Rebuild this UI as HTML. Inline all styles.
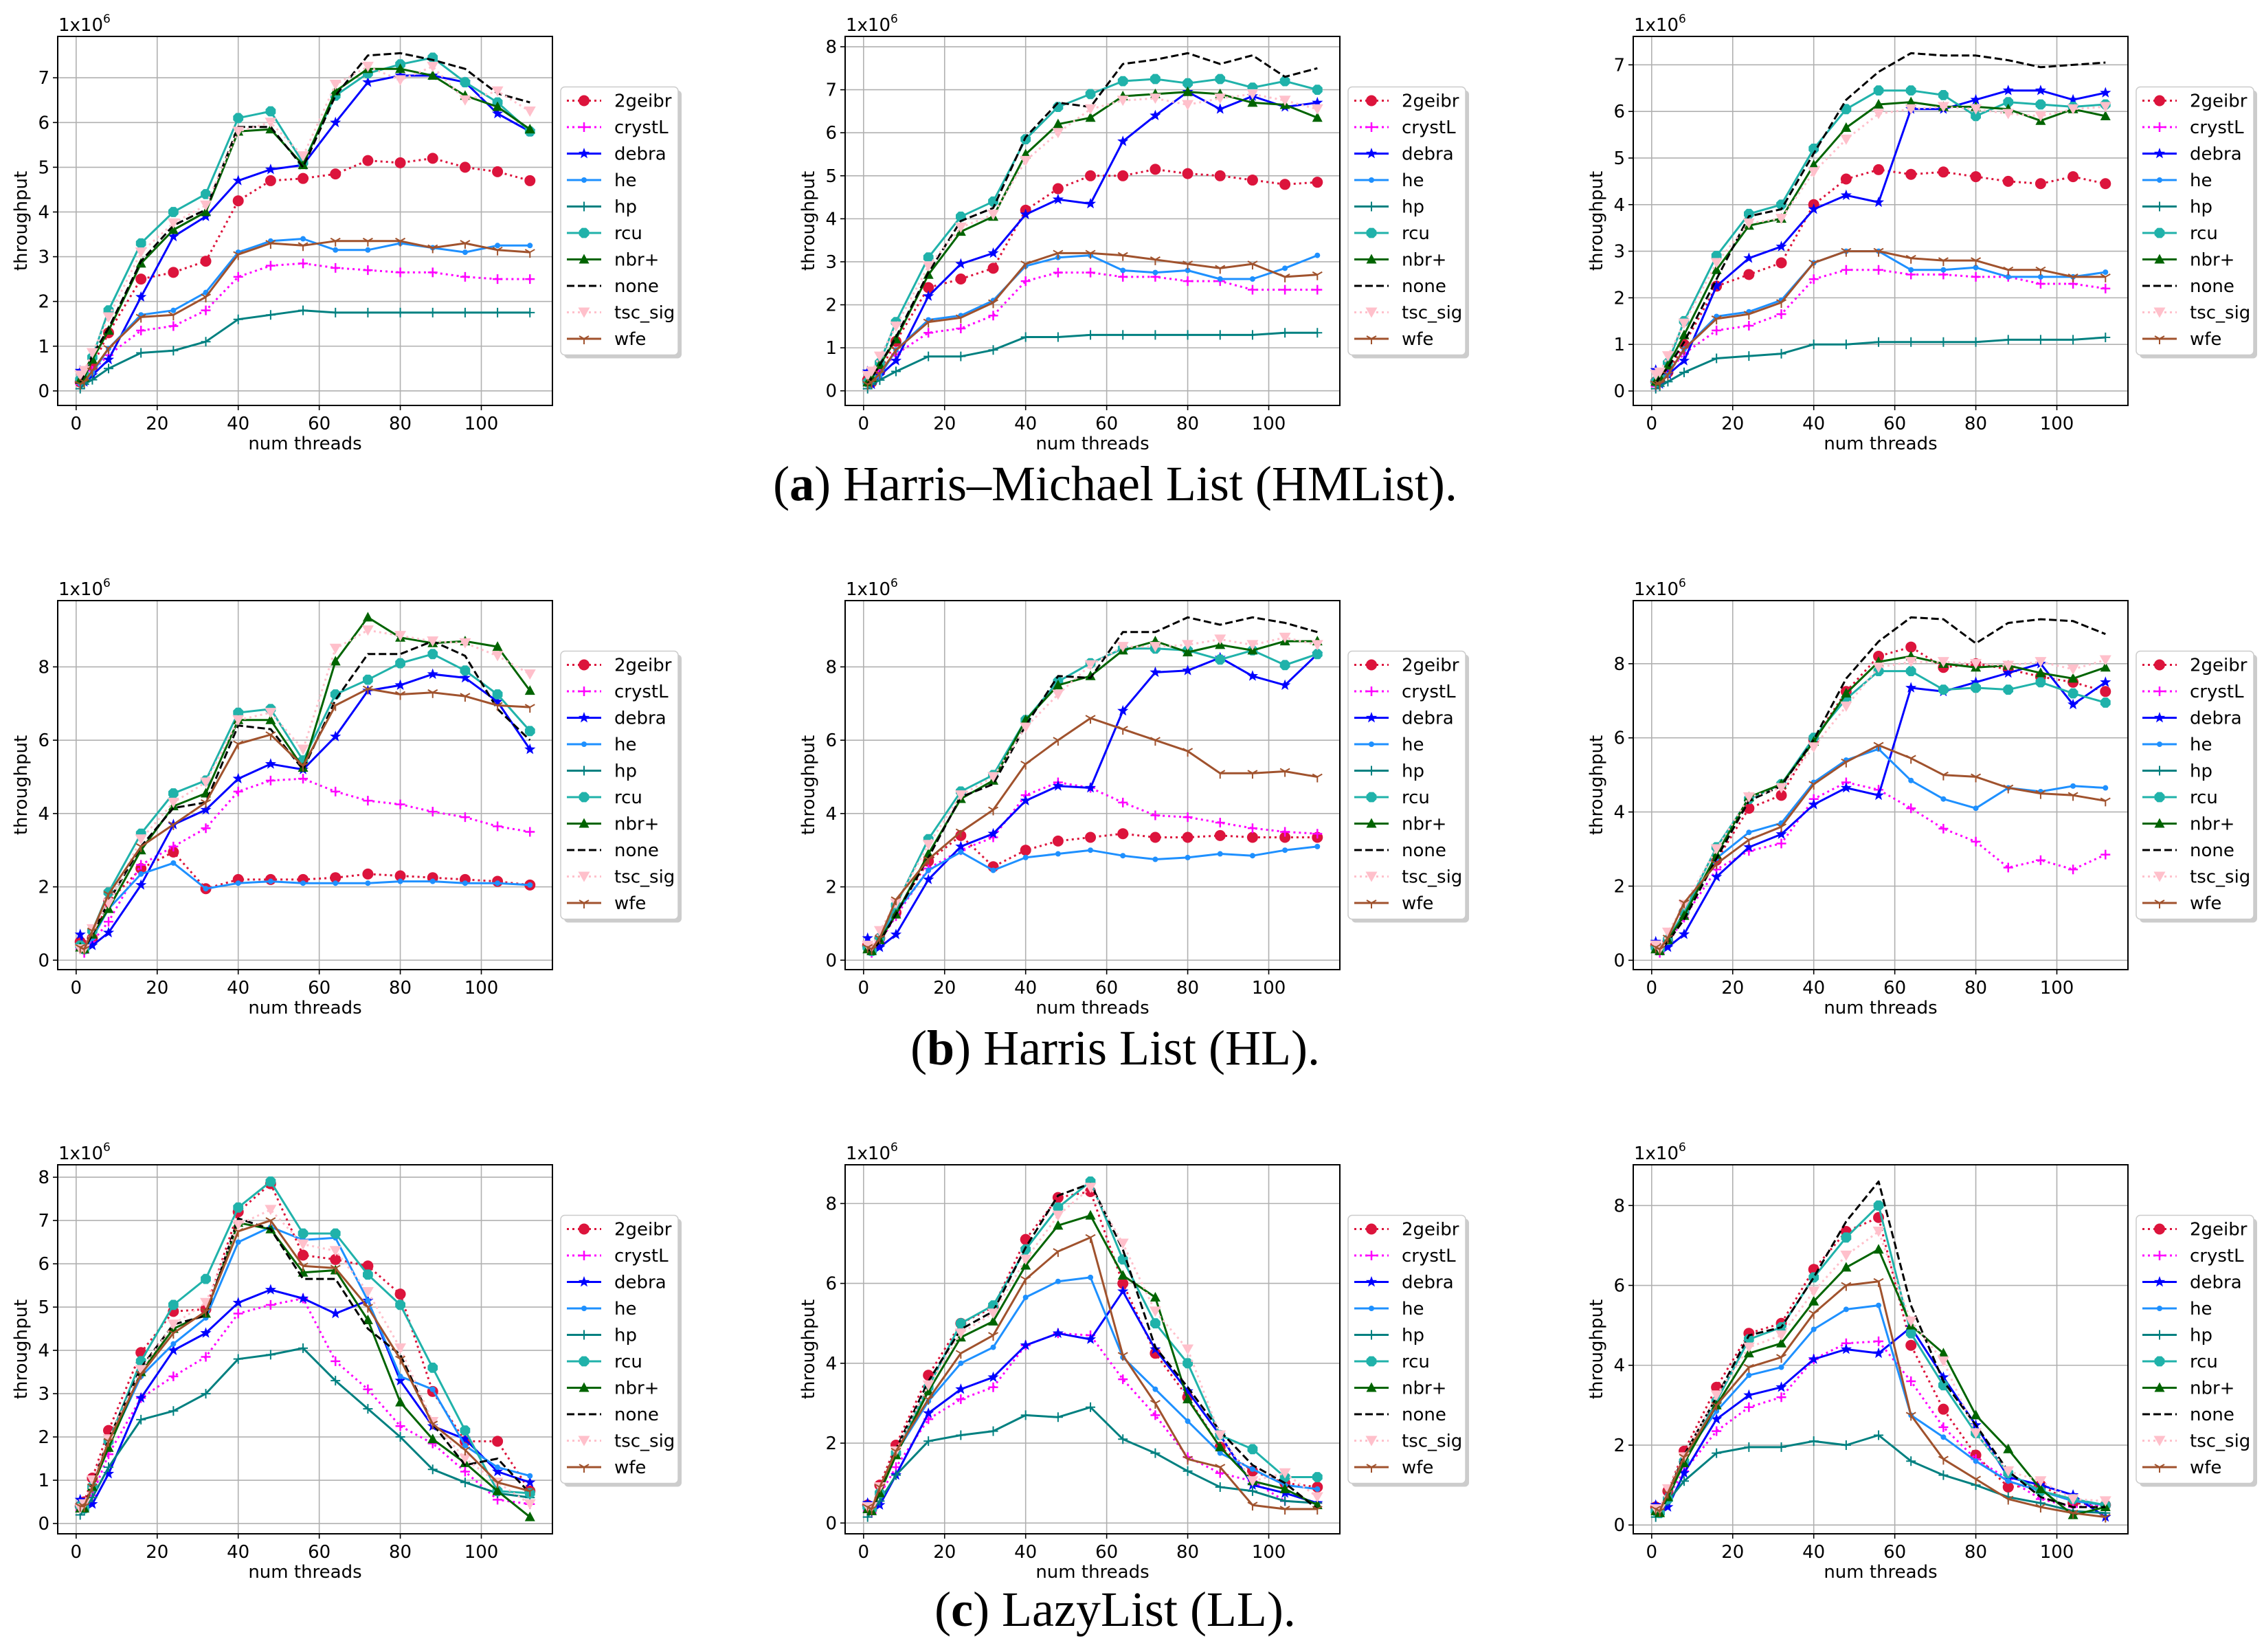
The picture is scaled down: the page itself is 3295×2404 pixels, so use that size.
<!DOCTYPE html>
<html><head><meta charset="utf-8"><style>
html,body{margin:0;padding:0;background:#fff}
svg{display:block}
text{font-family:"DejaVu Sans","Liberation Sans",sans-serif}
.cap{font-family:"Liberation Serif",serif}
</style></head><body>
<svg id="fig" xmlns="http://www.w3.org/2000/svg" width="3295" height="2404" viewBox="0 0 3295 2404">
<rect width="3295" height="2404" fill="#fff"/>
<text class="cap" x="1623" y="728" font-size="72" text-anchor="middle">(<tspan font-weight="bold">a</tspan>) Harris–Michael List (HMList).</text>
<text class="cap" x="1623" y="1549" font-size="72" text-anchor="middle">(<tspan font-weight="bold">b</tspan>) Harris List (HL).</text>
<text class="cap" x="1623" y="2366" font-size="72" text-anchor="middle">(<tspan font-weight="bold">c</tspan>) LazyList (LL).</text>
</svg>
<script>
const threads = [1,2,4,8,16,24,32,40,48,56,64,72,80,88,96,104,112];
const seriesNames = ["2geibr","crystL","debra","he","hp","rcu","nbr+","none","tsc_sig","wfe"];
const xTicks = [0,20,40,60,80,100];

const hmlist1 = [
[0.2,0.3,0.55,1.3,2.5,2.65,2.9,4.25,4.7,4.75,4.85,5.15,5.1,5.2,5.0,4.9,4.7],
[0.15,0.25,0.45,0.8,1.35,1.45,1.8,2.55,2.8,2.85,2.75,2.7,2.65,2.65,2.55,2.5,2.5],
[0.45,0.2,0.35,0.7,2.1,3.45,3.9,4.7,4.95,5.05,6.0,6.9,7.05,7.05,6.9,6.2,5.8],
[0.15,0.2,0.4,0.95,1.7,1.8,2.2,3.1,3.35,3.4,3.15,3.15,3.3,3.2,3.1,3.25,3.25],
[0.05,0.15,0.25,0.5,0.85,0.9,1.1,1.6,1.7,1.8,1.75,1.75,1.75,1.75,1.75,1.75,1.75],
[0.25,0.35,0.75,1.8,3.3,4.0,4.4,6.1,6.25,5.1,6.6,7.1,7.3,7.45,6.9,6.45,5.8],
[0.25,0.3,0.7,1.35,2.85,3.6,4.0,5.8,5.85,5.05,6.7,7.2,7.2,7.05,6.6,6.35,5.85],
[0.2,0.35,0.8,1.4,2.9,3.7,4.05,5.9,5.9,5.0,6.6,7.5,7.55,7.4,7.2,6.65,6.45],
[0.35,0.45,0.85,1.65,3.1,3.75,4.15,5.8,6.0,5.25,6.85,7.25,6.95,7.25,6.5,6.7,6.25],
[0.15,0.2,0.45,0.95,1.65,1.7,2.1,3.05,3.3,3.25,3.35,3.35,3.35,3.2,3.3,3.15,3.1]];
const hmlist2 = [
[0.25,0.2,0.45,1.15,2.4,2.6,2.85,4.2,4.7,5.0,5.0,5.15,5.05,5.0,4.9,4.8,4.85],
[0.15,0.2,0.45,0.85,1.35,1.45,1.75,2.55,2.75,2.75,2.65,2.65,2.55,2.55,2.35,2.35,2.35],
[0.45,0.15,0.35,0.7,2.2,2.95,3.2,4.1,4.45,4.35,5.8,6.4,6.95,6.55,6.85,6.6,6.7],
[0.15,0.2,0.35,0.95,1.65,1.75,2.1,2.9,3.1,3.15,2.8,2.75,2.8,2.6,2.6,2.85,3.15],
[0.05,0.15,0.25,0.45,0.8,0.8,0.95,1.25,1.25,1.3,1.3,1.3,1.3,1.3,1.3,1.35,1.35],
[0.2,0.3,0.65,1.6,3.1,4.05,4.4,5.85,6.6,6.9,7.2,7.25,7.15,7.25,7.05,7.2,7.0],
[0.2,0.3,0.6,1.2,2.7,3.7,4.05,5.5,6.2,6.35,6.85,6.9,6.95,6.9,6.7,6.65,6.35],
[0.15,0.3,0.6,1.25,2.75,3.95,4.25,5.9,6.7,6.6,7.6,7.7,7.85,7.6,7.8,7.3,7.5],
[0.35,0.45,0.8,1.5,2.9,3.8,4.1,5.35,6.0,6.55,6.75,6.8,6.65,6.8,6.9,6.75,6.55],
[0.15,0.2,0.4,0.95,1.6,1.7,2.05,2.95,3.2,3.2,3.15,3.05,2.95,2.85,2.95,2.65,2.7]];
const hmlist3 = [
[0.2,0.2,0.4,1.0,2.25,2.5,2.75,4.0,4.55,4.75,4.65,4.7,4.6,4.5,4.45,4.6,4.45],
[0.1,0.2,0.4,0.8,1.3,1.4,1.65,2.4,2.6,2.6,2.5,2.5,2.45,2.45,2.3,2.3,2.2],
[0.45,0.15,0.35,0.65,2.25,2.85,3.1,3.9,4.2,4.05,6.05,6.05,6.25,6.45,6.45,6.25,6.4],
[0.15,0.2,0.35,0.9,1.6,1.7,1.95,2.75,3.0,3.0,2.6,2.6,2.65,2.45,2.45,2.45,2.55],
[0.05,0.1,0.2,0.4,0.7,0.75,0.8,1.0,1.0,1.05,1.05,1.05,1.05,1.1,1.1,1.1,1.15],
[0.2,0.3,0.6,1.5,2.9,3.8,4.0,5.2,6.05,6.45,6.45,6.35,5.9,6.2,6.15,6.1,6.15],
[0.2,0.3,0.55,1.2,2.6,3.55,3.7,4.85,5.65,6.15,6.2,6.1,6.1,6.05,5.8,6.05,5.9],
[0.15,0.3,0.5,1.05,2.4,3.75,3.9,5.1,6.25,6.85,7.25,7.2,7.2,7.1,6.95,7.0,7.05],
[0.35,0.4,0.75,1.45,2.75,3.6,3.7,4.7,5.4,5.95,6.05,6.1,6.05,5.95,5.9,6.05,6.1],
[0.15,0.15,0.35,0.9,1.55,1.65,1.9,2.75,3.0,3.0,2.85,2.8,2.8,2.6,2.6,2.45,2.45]];
const hl1 = [
[0.5,0.4,0.6,1.6,2.5,2.95,1.95,2.2,2.2,2.2,2.25,2.35,2.3,2.25,2.2,2.15,2.05],
[0.3,0.2,0.5,1.05,2.6,3.1,3.6,4.6,4.9,4.95,4.6,4.35,4.25,4.05,3.9,3.65,3.5],
[0.7,0.3,0.4,0.75,2.05,3.7,4.1,4.95,5.35,5.2,6.1,7.35,7.5,7.8,7.7,7.05,5.75],
[0.4,0.3,0.6,1.4,2.35,2.65,1.95,2.1,2.15,2.1,2.1,2.1,2.15,2.15,2.1,2.1,2.05],
[],
[0.4,0.3,0.8,1.85,3.45,4.55,4.9,6.75,6.85,5.45,7.25,7.65,8.1,8.35,7.9,7.25,6.25],
[0.35,0.3,0.7,1.4,3.0,4.2,4.55,6.55,6.55,5.25,8.15,9.35,8.8,8.65,8.7,8.55,7.35],
[0.35,0.3,0.7,1.6,3.1,4.15,4.3,6.4,6.3,5.2,7.1,8.35,8.35,8.7,8.3,6.85,6.0],
[0.3,0.3,0.85,1.55,3.3,4.3,4.85,6.55,6.75,5.75,8.5,9.0,8.85,8.7,8.65,8.3,7.8],
[0.35,0.3,0.8,1.8,3.1,3.7,4.3,5.9,6.15,5.3,6.95,7.4,7.25,7.3,7.2,6.95,6.9]];
const hl2 = [
[0.4,0.3,0.6,1.3,2.7,3.4,2.55,3.0,3.25,3.35,3.45,3.35,3.35,3.4,3.35,3.35,3.35],
[0.35,0.2,0.5,1.2,2.5,3.0,3.35,4.5,4.85,4.7,4.3,3.95,3.9,3.75,3.6,3.5,3.45],
[0.6,0.25,0.35,0.7,2.2,3.1,3.45,4.35,4.75,4.7,6.8,7.85,7.9,8.25,7.75,7.5,8.35],
[0.35,0.3,0.6,1.3,2.45,2.95,2.45,2.8,2.9,3.0,2.85,2.75,2.8,2.9,2.85,3.0,3.1],
[],
[0.35,0.25,0.6,1.5,3.3,4.6,5.05,6.55,7.6,8.1,8.5,8.5,8.45,8.2,8.45,8.05,8.35],
[0.3,0.25,0.55,1.25,2.9,4.4,4.9,6.55,7.5,7.75,8.45,8.7,8.4,8.6,8.45,8.7,8.7],
[0.3,0.25,0.5,1.25,2.8,4.45,4.8,6.4,7.75,7.7,8.95,8.95,9.35,9.15,9.35,9.2,8.95],
[0.4,0.35,0.8,1.55,3.15,4.5,5.0,6.35,7.25,8.05,8.55,8.55,8.6,8.75,8.6,8.8,8.6],
[0.35,0.3,0.6,1.65,2.75,3.5,4.1,5.35,6.0,6.6,6.3,6.0,5.7,5.1,5.1,5.15,5.0]];
const hl3 = [
[0.4,0.3,0.5,1.3,2.7,4.1,4.45,5.95,7.25,8.2,8.45,7.9,8.0,7.85,7.65,7.5,7.25],
[0.3,0.2,0.45,1.15,2.45,2.95,3.15,4.35,4.8,4.6,4.1,3.55,3.2,2.5,2.7,2.45,2.85],
[0.5,0.25,0.35,0.7,2.25,3.05,3.4,4.2,4.65,4.45,7.35,7.25,7.5,7.75,8.0,6.9,7.5],
[0.35,0.3,0.55,1.3,2.75,3.45,3.7,4.8,5.4,5.7,4.85,4.35,4.1,4.65,4.55,4.7,4.65],
[],
[0.35,0.3,0.55,1.3,3.05,4.35,4.75,6.0,7.05,7.8,7.8,7.3,7.35,7.3,7.5,7.2,6.95],
[0.3,0.25,0.55,1.2,2.85,4.4,4.75,5.9,7.2,8.05,8.2,8.0,7.9,7.95,7.75,7.6,7.9],
[0.3,0.25,0.5,1.1,2.75,4.3,4.7,5.95,7.6,8.6,9.25,9.2,8.55,9.1,9.2,9.15,8.8],
[0.4,0.3,0.75,1.5,3.0,4.4,4.65,5.75,6.85,7.9,8.05,8.05,8.0,7.95,8.05,7.85,8.1],
[0.35,0.3,0.6,1.55,2.6,3.25,3.6,4.75,5.35,5.8,5.45,5.0,4.95,4.65,4.5,4.45,4.3]];
const ll1 = [
[0.4,0.5,1.05,2.15,3.95,4.9,4.95,7.2,7.85,6.2,6.1,5.95,5.3,3.05,1.9,1.9,0.75],
[0.3,0.4,0.65,1.6,2.9,3.4,3.85,4.85,5.05,5.2,3.75,3.1,2.25,1.85,1.2,0.55,0.45],
[0.55,0.35,0.45,1.15,2.9,4.0,4.4,5.1,5.4,5.2,4.85,5.15,3.3,2.25,1.95,1.2,0.95],
[0.4,0.4,0.85,1.8,3.4,4.15,4.75,6.5,6.85,6.55,6.6,5.15,3.4,3.1,1.8,1.3,1.1],
[0.2,0.3,0.6,1.3,2.4,2.6,3.0,3.8,3.9,4.05,3.3,2.65,2.0,1.25,0.95,0.7,0.6],
[0.4,0.35,0.85,1.9,3.75,5.05,5.65,7.3,7.9,6.7,6.7,5.75,5.05,3.6,2.15,0.75,0.7],
[0.35,0.35,0.85,1.75,3.5,4.5,4.85,6.95,6.8,5.8,5.85,4.7,2.8,1.95,1.4,0.75,0.15],
[0.4,0.4,0.9,1.95,3.6,4.6,4.8,7.05,6.8,5.65,5.65,4.5,3.9,2.3,1.35,1.5,0.7],
[0.35,0.45,1.0,1.95,3.55,4.6,5.1,6.9,7.25,6.45,6.3,5.35,4.05,2.35,1.5,0.95,0.45],
[0.4,0.4,0.85,1.9,3.45,4.4,4.9,6.75,7.0,5.95,5.9,5.0,3.8,2.3,1.7,0.95,0.75]];
const ll2 = [
[0.45,0.35,0.95,1.95,3.7,5.0,5.4,7.1,8.15,8.3,6.0,4.25,3.15,1.9,1.3,1.0,0.9],
[0.3,0.25,0.7,1.4,2.6,3.1,3.4,4.45,4.75,4.7,3.6,2.7,1.65,1.25,1.05,0.55,0.5],
[0.5,0.35,0.45,1.2,2.75,3.35,3.65,4.45,4.75,4.6,5.8,4.35,3.3,2.2,0.95,0.75,0.5],
[0.4,0.35,0.8,1.75,3.05,4.0,4.4,5.65,6.05,6.15,4.15,3.35,2.55,1.75,1.35,0.95,0.85],
[0.15,0.3,0.55,1.2,2.05,2.2,2.3,2.7,2.65,2.9,2.1,1.75,1.3,0.9,0.8,0.55,0.5],
[0.4,0.35,0.75,1.75,3.4,5.0,5.45,6.85,7.9,8.55,6.6,5.0,4.0,2.2,1.85,1.15,1.15],
[0.35,0.3,0.75,1.7,3.3,4.65,5.05,6.45,7.45,7.7,6.2,5.65,3.1,1.9,1.05,0.85,0.45],
[0.4,0.35,0.85,1.85,3.55,4.85,5.3,6.9,8.2,8.5,6.85,4.4,3.4,2.3,1.45,1.0,0.35],
[0.4,0.4,0.9,1.8,3.45,4.75,5.25,6.6,7.7,8.4,7.0,5.3,4.35,2.2,1.05,1.25,0.65],
[0.4,0.35,0.9,1.8,3.1,4.25,4.7,6.1,6.8,7.15,4.2,3.0,1.6,1.4,0.45,0.35,0.35]];
const ll3 = [
[0.45,0.4,0.85,1.85,3.45,4.8,5.05,6.4,7.35,7.7,4.5,2.9,1.75,0.95,1.0,0.55,0.5],
[0.3,0.3,0.7,1.35,2.35,2.95,3.2,4.15,4.55,4.6,3.6,2.45,1.65,1.15,0.65,0.45,0.5],
[0.5,0.35,0.45,1.3,2.65,3.25,3.45,4.15,4.4,4.3,4.95,3.7,2.5,1.2,1.0,0.75,0.2],
[0.4,0.35,0.75,1.7,2.85,3.75,3.95,4.9,5.4,5.5,2.75,2.2,1.6,1.1,0.85,0.6,0.5],
[0.2,0.3,0.6,1.1,1.8,1.95,1.95,2.1,2.0,2.25,1.6,1.25,1.0,0.7,0.55,0.35,0.3],
[0.35,0.3,0.65,1.6,3.1,4.65,4.95,6.2,7.2,8.0,4.8,3.5,2.3,1.3,0.85,0.65,0.5],
[0.35,0.3,0.7,1.55,3.0,4.3,4.55,5.6,6.45,6.9,5.0,4.3,2.75,1.9,0.9,0.25,0.45],
[0.4,0.35,0.8,1.75,3.2,4.75,4.95,6.2,7.6,8.6,5.5,3.6,2.5,1.35,0.7,0.45,0.45],
[0.4,0.4,0.9,1.7,3.25,4.45,4.75,5.85,6.75,7.35,5.1,4.1,2.3,1.35,1.1,0.65,0.6],
[0.4,0.35,0.8,1.7,3.0,3.95,4.2,5.3,6.0,6.1,2.75,1.65,1.15,0.65,0.45,0.3,0.2]];
const yStepA = 1, yStepB = 2;

const NS = "http://www.w3.org/2000/svg";
const svg = document.getElementById('fig');
const colors = ["#dc143c","#ff00ff","#0000ff","#1e90ff","#008080","#20b2aa","#006400","#000000","#ffc0cb","#a0522d"];
const dashes = ["3,5","3,5",null,null,null,null,null,"11,5","3,5",null];
function mk(tag, attrs, parent){const e=document.createElementNS(NS,tag);for(const k in attrs)e.setAttribute(k,attrs[k]);(parent||svg).appendChild(e);return e;}

function marker(g, i, cx, cy){
  const c=colors[i]; let e;
  if(i===0){e=mk('circle',{cx:cx,cy:cy,r:8,fill:c},g);}
  else if(i===1||i===4){const r=7;e=mk('path',{d:`M${cx-r},${cy}H${cx+r}M${cx},${cy-r}V${cy+r}`,stroke:c,'stroke-width':i===1?2.5:2,fill:'none'},g);}
  else if(i===2){let p='';for(let k=0;k<10;k++){const a=-Math.PI/2+k*Math.PI/5;const r=k%2?3.5:8.5;p+=(k?'L':'M')+(cx+r*Math.cos(a)).toFixed(1)+','+(cy+r*Math.sin(a)).toFixed(1);}e=mk('path',{d:p+'Z',fill:c},g);}
  else if(i===3){e=mk('circle',{cx:cx,cy:cy,r:4,fill:c},g);}
  else if(i===5){let p='';for(let k=0;k<8;k++){const a=Math.PI/8+k*Math.PI/4;p+=(k?'L':'M')+(cx+8*Math.cos(a)).toFixed(1)+','+(cy+8*Math.sin(a)).toFixed(1);}e=mk('path',{d:p+'Z',fill:c},g);}
  else if(i===6){e=mk('path',{d:`M${cx},${cy-8}L${cx+7.5},${cy+6}L${cx-7.5},${cy+6}Z`,fill:c},g);}
  else if(i===8){e=mk('path',{d:`M${cx},${cy+8}L${cx+8.5},${cy-7}L${cx-8.5},${cy-7}Z`,fill:c},g);}
  else if(i===9){e=mk('path',{d:`M${cx},${cy}V${cy+8}M${cx},${cy}L${cx-7},${cy-4}M${cx},${cy}L${cx+7},${cy-4}`,stroke:c,'stroke-width':2,fill:'none'},g);}
  if(e){
  }
}

function chart(key, data, ox, oy, step){
  const L=ox+84, T=oy, W=720, H=537;
  const g=mk('g',{});
  
  
  const xmin=threads[0]-0.05*(threads[threads.length-1]-threads[0]);
  const xmax=threads[threads.length-1]+0.05*(threads[threads.length-1]-threads[0]);
  let lo=Infinity,hi=-Infinity;
  data.forEach(s=>s.forEach(v=>{lo=Math.min(lo,v);hi=Math.max(hi,v);}));
  const ymin=lo-0.05*(hi-lo), ymax=hi+0.05*(hi-lo);
  const X=v=>L+(v-xmin)/(xmax-xmin)*W;
  const Y=v=>T+H-(v-ymin)/(ymax-ymin)*H;
  const grid=mk('g',{},g);
  
  
  xTicks.forEach(t=>{const x=X(t);
    mk('line',{x1:x,y1:T,x2:x,y2:T+H,stroke:'#b0b0b0','stroke-width':1.6},grid);
    mk('line',{x1:x,y1:T+H,x2:x,y2:T+H+7,stroke:'#000','stroke-width':1.6},grid);
    const tx=mk('text',{x:x,y:T+H+35,'font-size':26,'text-anchor':'middle'},g);tx.textContent=t;
    
    
  });
  for(let t=Math.ceil(ymin/step)*step;t<=ymax;t+=step){const y=Y(t);
    mk('line',{x1:L,y1:y,x2:L+W,y2:y,stroke:'#b0b0b0','stroke-width':1.6},grid);
    mk('line',{x1:L-7,y1:y,x2:L,y2:y,stroke:'#000','stroke-width':1.6},grid);
    const ty=mk('text',{x:L-12,y:y+9,'font-size':26,'text-anchor':'end'},g);ty.textContent=t;
    
    
  }
  data.forEach((s,i)=>{ if(!s.length) return;
    const sg=mk('g',{},g);
    
    
    const pts=s.map((v,k)=>X(threads[k]).toFixed(1)+','+Y(v).toFixed(1)).join(' ');
    const a={points:pts,fill:'none',stroke:colors[i],'stroke-width':3,'stroke-linejoin':'round'};
    if(dashes[i])a['stroke-dasharray']=dashes[i];
    mk('polyline',a,sg);
    if(i!==7) s.forEach((v,k)=>marker(sg,i,X(threads[k]),Y(v)));
  });
  const fr=mk('rect',{x:L,y:T,width:W,height:H,fill:'none',stroke:'#000','stroke-width':2},g);
  
  
  const xl=mk('text',{x:L+W/2,y:T+H+64,'font-size':26,'text-anchor':'middle'},g);xl.textContent='num threads';
  
  
  const yl=mk('text',{x:0,y:0,'font-size':26,'text-anchor':'middle',transform:`translate(${ox+39},${T+H/2}) rotate(-90)`},g);yl.textContent='throughput';
  
  
  const sc=mk('text',{x:L+1,y:T-8,'font-size':26},g);
  
  
  sc.innerHTML='1x10<tspan font-size="17" dy="-12">6</tspan>';
  const lg=mk('g',{},g);
  
  
  const lx=ox+816, lw=171, lh=390, ly=T+(H-lh)/2;
  mk('rect',{x:lx+5,y:ly+5,width:lw,height:lh,rx:6,fill:'#999','fill-opacity':0.5},lg);
  mk('rect',{x:lx,y:ly,width:lw,height:lh,rx:6,fill:'#fff',stroke:'#ccc','stroke-width':1.5},lg);
  seriesNames.forEach((n,i)=>{const y=ly+20+i*38.5;
    const e=mk('g',{},lg);
    
    
    const a={x1:lx+9,y1:y,x2:lx+59,y2:y,stroke:colors[i],'stroke-width':3};
    if(dashes[i])a['stroke-dasharray']=dashes[i];
    mk('line',a,e);
    if(i!==7) marker(e,i,lx+34,y);
    const t=mk('text',{x:lx+78,y:y+9,'font-size':26},e);t.textContent=n;
  });
}
const cols=[0,1146,2293], rows=[53,874,1695];
chart('hmlist-1',hmlist1,cols[0],rows[0],yStepA);
chart('hmlist-2',hmlist2,cols[1],rows[0],yStepA);
chart('hmlist-3',hmlist3,cols[2],rows[0],yStepA);
chart('hl-1',hl1,cols[0],rows[1],yStepB);
chart('hl-2',hl2,cols[1],rows[1],yStepB);
chart('hl-3',hl3,cols[2],rows[1],yStepB);
chart('ll-1',ll1,cols[0],rows[2],yStepA);
chart('ll-2',ll2,cols[1],rows[2],yStepB);
chart('ll-3',ll3,cols[2],rows[2],yStepB);
</script>
</body></html>
